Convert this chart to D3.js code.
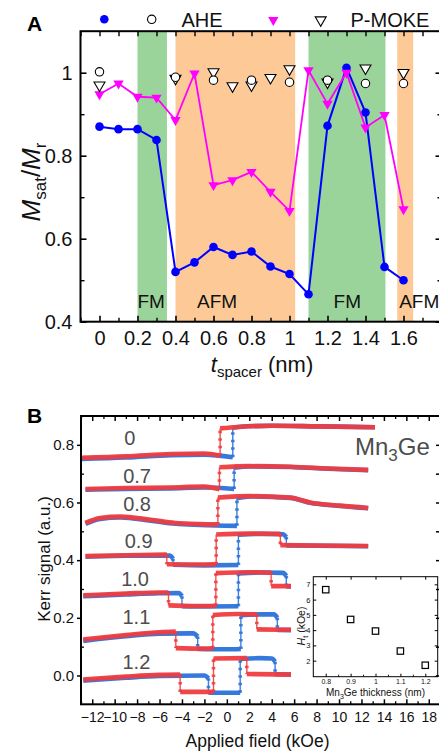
<!DOCTYPE html>
<html><head><meta charset="utf-8">
<script src="https://cdn.jsdelivr.net/npm/d3@7"></script>
<style>
body{margin:0;background:#fff;}
svg{display:block;font-family:"Liberation Sans",Arial,Helvetica,sans-serif;}
</style></head><body>
<svg id="chart" width="439" height="752"></svg>
<script>
// ---------- Panel A: saturation / remanence ratio vs spacer thickness ----------
const spacer   = [0,0.1,0.2,0.3,0.4,0.5,0.6,0.7,0.8,0.9,1.0,1.1,1.2,1.3,1.4,1.5,1.6];
const aheSat   = [0.870,0.864,0.864,0.838,0.520,0.543,0.580,0.561,0.569,0.533,0.515,0.466,0.872,1.012,0.904,0.532,0.500];
const mokeSat  = [0.948,0.974,0.942,0.940,0.886,0.998,0.729,0.741,0.761,0.713,0.667,1.006,0.925,1.000,0.868,0.898,0.671];
const aheOpenX = [0,0.4,0.6,0.8,1.0,1.2,1.4,1.6];
const aheOpen  = [1.002,0.989,0.982,0.982,0.977,0.982,0.974,0.974];
const mokeOpenX= [0,0.4,0.6,0.7,0.8,0.9,1.0,1.2,1.4,1.6];
const mokeOpen = [0.970,0.986,1.002,0.968,0.970,0.988,1.009,0.977,1.011,1.000];
const fmBands  = [[0.2,0.355],[1.1,1.505]];
const afmBands = [[0.4,1.03],[1.567,1.651]];
const phaseNames = ["FM","AFM","FM","AFM"];
const phaseStart = [0.2,0.513,1.232,1.577];
const xTicksA = [0,0.2,0.4,0.6,0.8,1.0,1.2,1.4,1.6];
const yTicksA = [0.4,0.6,0.8,1.0];

// ---------- Panel B: Kerr hysteresis loops (field kOe, signal a.u.) ----------
const loopNames = ["0","0.7","0.8","0.9","1.0","1.1","1.2"];
const loopLabelH = [-9.15,-9.24,-9.24,-9.1,-9.42,-9.3,-9.3];
const loopLabelS = [0.800,0.668,0.572,0.442,0.309,0.177,0.023];
// descending sweep (red) and ascending sweep (blue)
const kerr00Down = [[-13,0.755],[-9,0.760],[-5,0.768],[-2,0.770],[-0.6,0.762],[-0.6,0.857],[1,0.862],[4,0.866],[8,0.864],[13.2,0.861]];
const kerr00Up   = [[-13,0.751],[-9,0.756],[-5,0.764],[-2,0.766],[0.53,0.757],[0.53,0.859],[1,0.862],[4,0.866],[8,0.864],[13.2,0.861]];
const kerr07Down = [[-12.6,0.647],[-9,0.650],[-5,0.652],[-2,0.655],[-0.66,0.646],[-0.66,0.722],[2,0.726],[5.7,0.724],[9,0.718],[12.6,0.713]];
const kerr07Up   = [[-12.6,0.644],[-9,0.647],[-5,0.649],[-2,0.652],[0.65,0.647],[0.65,0.721],[2,0.725],[5.7,0.723],[9,0.717],[12.6,0.712]];
const kerr08Down = [[-12.6,0.529],[-11.3,0.546],[-9.5,0.551],[-6.8,0.540],[-4.6,0.529],[-2.4,0.525],[-0.8,0.524],[-0.8,0.617],[2.1,0.622],[5.65,0.617],[7.4,0.600],[10.1,0.589],[12.6,0.581]];
const kerr08Up   = [[-12.6,0.526],[-11.3,0.543],[-9.5,0.548],[-6.8,0.537],[-4.6,0.526],[-2.4,0.522],[0.9,0.519],[0.9,0.615],[2.1,0.621],[5.65,0.616],[7.4,0.599],[10.1,0.588],[12.6,0.580]];
const kerr09Down = [[-12.6,0.414],[-9,0.417],[-5.35,0.419],[-5.35,0.386],[-3,0.385],[-0.95,0.386],[-0.95,0.489],[2,0.492],[4.77,0.491],[4.77,0.452],[8,0.451],[12.6,0.449]];
const kerr09Up   = [[-12.6,0.412],[-9,0.415],[-5.1,0.416],[-4.8,0.405],[-4.8,0.384],[-2,0.382],[1.03,0.383],[1.03,0.488],[3,0.491],[5.0,0.490],[5.3,0.480],[5.3,0.451],[8,0.450],[12.6,0.448]];
const kerr10Down = [[-12.8,0.278],[-9,0.284],[-6,0.288],[-5.2,0.288],[-5.2,0.243],[-3,0.241],[-0.98,0.242],[-0.98,0.355],[2,0.358],[3.95,0.357],[3.95,0.310],[8,0.310],[12.6,0.309]];
const kerr10Up   = [[-12.8,0.275],[-9,0.281],[-6,0.285],[-4.3,0.286],[-4.0,0.275],[-4.0,0.240],[-2,0.239],[1.03,0.240],[1.03,0.354],[3,0.357],[5.0,0.356],[5.3,0.345],[5.3,0.309],[12.6,0.308]];
const kerr11Down = [[-12.8,0.125],[-9,0.140],[-6,0.150],[-4.55,0.152],[-4.55,0.095],[-2,0.093],[-1.25,0.094],[-1.25,0.210],[1,0.213],[2.67,0.212],[2.67,0.160],[6,0.158],[12.6,0.155]];
const kerr11Up   = [[-12.8,0.120],[-9,0.136],[-6,0.145],[-3,0.146],[-2.6,0.135],[-2.6,0.092],[0,0.091],[1.25,0.092],[1.25,0.209],[3,0.212],[4.2,0.212],[4.5,0.200],[4.5,0.158],[12.6,0.154]];
const kerr12Down = [[-12.8,-0.014],[-9,-0.004],[-6,0.002],[-4.16,0.003],[-4.16,-0.057],[-1.19,-0.057],[-1.19,0.059],[1.78,0.060],[1.78,0.005],[6,0.003],[12.6,0.000]];
const kerr12Up   = [[-12.8,-0.018],[-9,-0.008],[-6,-0.002],[-2,0.000],[-1.64,-0.010],[-1.64,-0.060],[1.19,-0.060],[1.19,0.057],[3,0.060],[4.0,0.059],[4.3,0.048],[4.3,0.004],[12.6,0.000]];
const loopsDown = [kerr00Down,kerr07Down,kerr08Down,kerr09Down,kerr10Down,kerr11Down,kerr12Down];
const loopsUp   = [kerr00Up,kerr07Up,kerr08Up,kerr09Up,kerr10Up,kerr11Up,kerr12Up];
const xTicksB = [-12,-10,-8,-6,-4,-2,0,2,4,6,8,10,12,14,16,18];
const yTicksB = [0,0.2,0.4,0.6,0.8];

// inset: transition field vs Mn3Ge thickness
const insetThick = [0.8,0.9,1.0,1.1,1.2];
const insetHt    = [6.65,4.70,3.94,2.63,1.70];

const svg = d3.select("#chart");
const BLUE_A = "#0000ff", MAG = "#ff00ff";
const RED_B = "#ef3c40", BLUE_B = "#2a72da";

function styleAxis(g, w, fs){
  g.select(".domain").remove();
  g.selectAll(".tick line").attr("stroke","#000").attr("stroke-width",w);
  g.selectAll(".tick text").attr("fill","#111").style("font-size",fs+"px").attr("font-family",null);
  g.attr("font-family",null);
}

// ================= Panel A =================
const xA = d3.scaleLinear().domain([-0.1,1.8]).range([80.5,441.5]);
const yA = d3.scaleLinear().domain([0.4,1.1]).range([321.7,31.2]);
const gA = svg.append("g");

fmBands.forEach(b => gA.append("rect")
  .attr("x",xA(b[0])).attr("width",xA(b[1])-xA(b[0]))
  .attr("y",yA(1.1)).attr("height",yA(0.4)-yA(1.1)).attr("fill","#9bd49b"));
afmBands.forEach(b => gA.append("rect")
  .attr("x",xA(b[0])).attr("width",xA(b[1])-xA(b[0]))
  .attr("y",yA(1.1)).attr("height",yA(0.4)-yA(1.1)).attr("fill","#fdca97"));

phaseNames.forEach((t,i) => gA.append("text")
  .attr("x",xA(phaseStart[i])).attr("y",308)
  .style("font-size","19px").attr("fill","#111").text(t));

// axes A
const minorA = d3.range(-0.1,1.85,0.1).map(v=>+v.toFixed(2)).filter(v=>!xTicksA.includes(v));
gA.append("g").attr("transform",`translate(0,${yA(0.4)})`)
  .call(d3.axisBottom(xA).tickValues(xTicksA).tickSize(-6).tickPadding(9)
    .tickFormat(d=> d===0?"0":(d===1?"1":d3.format(".1f")(d))))
  .call(g=>styleAxis(g,1.6,20));
gA.append("g").attr("transform",`translate(0,${yA(0.4)})`)
  .call(d3.axisBottom(xA).tickValues(minorA).tickSize(-4).tickFormat(""))
  .call(g=>styleAxis(g,1.4,20));
gA.append("g").attr("transform",`translate(0,${yA(1.1)})`)
  .call(d3.axisTop(xA).tickValues(xTicksA.concat(minorA)).tickSize(-5).tickFormat(""))
  .call(g=>styleAxis(g,1.4,20));
gA.append("g").attr("transform",`translate(${xA(-0.1)},0)`)
  .call(d3.axisLeft(yA).tickValues(yTicksA).tickSize(-6).tickPadding(8)
    .tickFormat(d=> d===1?"1":d3.format(".1f")(d)))
  .call(g=>styleAxis(g,1.6,20));
gA.append("g").attr("transform",`translate(${xA(-0.1)},0)`)
  .call(d3.axisLeft(yA).tickValues([0.5,0.7,0.9]).tickSize(-4).tickFormat(""))
  .call(g=>styleAxis(g,1.4,20));
gA.append("g").attr("transform",`translate(${xA(1.8)},0)`)
  .call(d3.axisRight(yA).tickValues(yTicksA).tickSize(-6).tickFormat(""))
  .call(g=>styleAxis(g,1.6,20));
gA.append("g").attr("transform",`translate(${xA(1.8)},0)`)
  .call(d3.axisRight(yA).tickValues([0.5,0.7,0.9]).tickSize(-4).tickFormat(""))
  .call(g=>styleAxis(g,1.4,20));
gA.append("rect").attr("x",xA(-0.1)).attr("y",yA(1.1))
  .attr("width",xA(1.8)-xA(-0.1)).attr("height",yA(0.4)-yA(1.1))
  .attr("fill","none").attr("stroke","#000").attr("stroke-width",2);

// series A
const lineA = d3.line().x(d=>xA(d[0])).y(d=>yA(d[1]));
const ahePts = spacer.map((t,i)=>[t,aheSat[i]]);
const mokePts = spacer.map((t,i)=>[t,mokeSat[i]]);
gA.append("path").datum(ahePts).attr("d",lineA).attr("fill","none")
  .attr("stroke",BLUE_A).attr("stroke-width",2);
gA.selectAll(".aheDot").data(ahePts).join("circle")
  .attr("cx",d=>xA(d[0])).attr("cy",d=>yA(d[1])).attr("r",4.3).attr("fill",BLUE_A);
gA.append("path").datum(mokePts).attr("d",lineA).attr("fill","none")
  .attr("stroke",MAG).attr("stroke-width",1.8);
const triDown = d3.symbol(d3.symbolTriangle,46);
gA.selectAll(".mokeTri").data(mokePts).join("path")
  .attr("d",triDown).attr("fill",MAG)
  .attr("transform",d=>`translate(${xA(d[0])},${yA(d[1])}) rotate(180)`);
gA.selectAll(".mokeOpen").data(mokeOpenX.map((t,i)=>[t,mokeOpen[i]])).join("path")
  .attr("d",d3.symbol(d3.symbolTriangle,52)).attr("fill","#fff").attr("stroke","#000").attr("stroke-width",1.1)
  .attr("transform",d=>`translate(${xA(d[0])},${yA(d[1])}) rotate(180)`);
gA.selectAll(".aheOpen").data(aheOpenX.map((t,i)=>[t,aheOpen[i]])).join("circle")
  .attr("cx",d=>xA(d[0])).attr("cy",d=>yA(d[1])).attr("r",4.2)
  .attr("fill","#fff").attr("stroke","#000").attr("stroke-width",1.1);

// legend A
gA.append("circle").attr("cx",104.3).attr("cy",19.3).attr("r",4.3).attr("fill",BLUE_A);
gA.append("circle").attr("cx",151.7).attr("cy",19.3).attr("r",4.2).attr("fill","#fff").attr("stroke","#000").attr("stroke-width",1.1);
gA.append("text").attr("x",181.5).attr("y",27).style("font-size","20px").attr("fill","#111").text("AHE");
gA.append("path").attr("d",triDown).attr("fill",MAG).attr("transform","translate(273.3,20) rotate(180)");
gA.append("path").attr("d",d3.symbol(d3.symbolTriangle,52)).attr("fill","#fff").attr("stroke","#000").attr("stroke-width",1.1)
  .attr("transform","translate(320.7,20) rotate(180)");
gA.append("text").attr("x",350.5).attr("y",27).style("font-size","20px").attr("fill","#111").text("P-MOKE");

// titles A
gA.append("text").attr("x",27).attr("y",31).style("font-size","21px").style("font-weight","bold").text("A");
const yTitleA = gA.append("text").attr("transform","translate(40,182) rotate(-90)")
  .attr("text-anchor","middle").style("font-size","26px").attr("fill","#111");
yTitleA.append("tspan").style("font-style","italic").text("M");
yTitleA.append("tspan").attr("dy",6).style("font-size","17px").text("sat");
yTitleA.append("tspan").attr("dy",-6).text("/");
yTitleA.append("tspan").style("font-style","italic").text("M");
yTitleA.append("tspan").attr("dy",6).style("font-size","17px").text("r");
const xTitleA = gA.append("text").attr("x",262).attr("y",372)
  .attr("text-anchor","middle").style("font-size","22px").attr("fill","#111");
xTitleA.append("tspan").style("font-style","italic").text("t");
xTitleA.append("tspan").attr("dy",5).style("font-size","15px").text("spacer");
xTitleA.append("tspan").attr("dy",-5).text(" (nm)");

// ================= Panel B =================
const xB = d3.scaleLinear().domain([-13,19]).range([81,440]);
const yB = d3.scaleLinear().domain([-0.1,0.9]).range([704.3,416]);
const gB = svg.append("g");
svg.append("defs").append("clipPath").attr("id","clipB")
  .append("rect").attr("x",xB(-13)).attr("y",yB(0.9)).attr("width",xB(19)-xB(-13)).attr("height",yB(-0.1)-yB(0.9));
const gCurves = gB.append("g").attr("clip-path","url(#clipB)");
const runLine = d3.line().x(d=>xB(d[0])).y(d=>yB(d[1])).curve(d3.curveMonotoneX);

function drawBranch(g, pts, color){
  const runs = [], jumps = [];
  let run = [pts[0]];
  for(let i=1;i<pts.length;i++){
    if(pts[i][0]===pts[i-1][0]){ runs.push(run); jumps.push([pts[i-1],pts[i]]); run=[pts[i]]; }
    else run.push(pts[i]);
  }
  runs.push(run);
  jumps.forEach(j=>{
    g.append("line").attr("x1",xB(j[0][0])).attr("x2",xB(j[1][0]))
      .attr("y1",yB(j[0][1])).attr("y2",yB(j[1][1]))
      .attr("stroke",color).attr("stroke-width",1.4).attr("opacity",0.9);
    g.append("line").attr("x1",xB(j[0][0])).attr("x2",xB(j[1][0]))
      .attr("y1",yB(j[0][1])).attr("y2",yB(j[1][1]))
      .attr("stroke",color).attr("stroke-width",3.6).attr("stroke-dasharray","2.5 5").attr("opacity",0.85);
  });
  runs.forEach(r=>{
    g.append("path").datum(r).attr("d",runLine).attr("fill","none")
      .attr("stroke",color).attr("stroke-width",4.6).attr("opacity",0.95);
  });
}
loopsUp.forEach((up,i)=>{
  drawBranch(gCurves, up, BLUE_B);
  drawBranch(gCurves, loopsDown[i], RED_B);
});

// loop labels
loopNames.forEach((n,i)=> gB.append("text")
  .attr("x",xB(loopLabelH[i])).attr("y",yB(loopLabelS[i]))
  .style("font-size","20px").attr("fill","#4d4d4d").text(n));

// material label
const mat = gB.append("text").attr("x",355).attr("y",455).style("font-size","24px").attr("fill","#4d4d4d");
mat.append("tspan").text("Mn");
mat.append("tspan").attr("dy",6).style("font-size","17px").text("3");
mat.append("tspan").attr("dy",-6).text("Ge");

// inset background hides the curves behind it
gB.append("rect").attr("x",291).attr("y",562).attr("width",150).attr("height",140).attr("fill","#fff");

// axes B
const minorBx = d3.range(-13,20,1).filter(v=>!xTicksB.includes(v));
gB.append("g").attr("transform",`translate(0,${yB(-0.1)})`)
  .call(d3.axisBottom(xB).tickValues(xTicksB).tickSize(-5).tickPadding(8).tickFormat(d3.format("d")))
  .call(g=>styleAxis(g,1.5,14));
gB.append("g").attr("transform",`translate(0,${yB(-0.1)})`)
  .call(d3.axisBottom(xB).tickValues(minorBx).tickSize(-3).tickFormat(""))
  .call(g=>styleAxis(g,1.3,14));
gB.append("g").attr("transform",`translate(0,${yB(0.9)})`)
  .call(d3.axisTop(xB).tickValues(xTicksB).tickSize(-5).tickFormat(""))
  .call(g=>styleAxis(g,1.5,14));
gB.append("g").attr("transform",`translate(0,${yB(0.9)})`)
  .call(d3.axisTop(xB).tickValues(minorBx).tickSize(-3).tickFormat(""))
  .call(g=>styleAxis(g,1.3,14));
gB.append("g").attr("transform",`translate(${xB(-13)},0)`)
  .call(d3.axisLeft(yB).tickValues(yTicksB).tickSize(4).tickPadding(3).tickFormat(d3.format(".1f")))
  .call(g=>styleAxis(g,1.5,15));
gB.append("g").attr("transform",`translate(${xB(-13)},0)`)
  .call(d3.axisLeft(yB).tickValues([0.1,0.3,0.5,0.7]).tickSize(-3).tickFormat(""))
  .call(g=>styleAxis(g,1.3,15));
gB.append("g").attr("transform",`translate(${xB(19)},0)`)
  .call(d3.axisRight(yB).tickValues(yTicksB.concat([0.1,0.3,0.5,0.7])).tickSize(-4).tickFormat(""))
  .call(g=>styleAxis(g,1.5,15));
gB.append("rect").attr("x",xB(-13)).attr("y",yB(0.9))
  .attr("width",xB(19)-xB(-13)).attr("height",yB(-0.1)-yB(0.9))
  .attr("fill","none").attr("stroke","#000").attr("stroke-width",2);

gB.append("text").attr("x",27).attr("y",423).style("font-size","21px").style("font-weight","bold").text("B");
gB.append("text").attr("x",257.5).attr("y",747).attr("text-anchor","middle")
  .style("font-size","17.5px").attr("fill","#111").text("Applied field (kOe)");
gB.append("text").attr("transform","translate(50,559) rotate(-90)").attr("text-anchor","middle")
  .style("font-size","17px").attr("fill","#111").text("Kerr signal (a.u.)");

// ================= Inset =================
const xI = d3.scaleLinear().domain([0.75,1.25]).range([313.3,437.7]);
const yI = d3.scaleLinear().domain([0.95,7.5]).range([676.7,576.7]);
const gI = svg.append("g");
gI.append("g").attr("transform",`translate(0,${yI(0.95)})`)
  .call(d3.axisBottom(xI).tickValues(insetThick).tickSize(-3).tickPadding(2)
    .tickFormat(d=> d===1?"1":d3.format(".1f")(d)))
  .call(g=>styleAxis(g,1,7));
gI.append("g").attr("transform",`translate(0,${yI(0.95)})`)
  .call(d3.axisBottom(xI).tickValues([0.85,0.95,1.05,1.15]).tickSize(-2).tickFormat(""))
  .call(g=>styleAxis(g,0.9,7));
gI.append("g").attr("transform",`translate(0,${yI(7.5)})`)
  .call(d3.axisTop(xI).tickValues(insetThick).tickSize(-3).tickFormat(""))
  .call(g=>styleAxis(g,1,7));
gI.append("g").attr("transform",`translate(${xI(0.75)},0)`)
  .call(d3.axisLeft(yI).tickValues([2,3,4,5,6,7]).tickSize(-3).tickPadding(3).tickFormat(d3.format("d")))
  .call(g=>styleAxis(g,1,7.5));
gI.append("g").attr("transform",`translate(${xI(1.25)},0)`)
  .call(d3.axisRight(yI).tickValues([1,2,3,4,5,6,7]).tickSize(-3).tickFormat(""))
  .call(g=>styleAxis(g,1,7.5));
gI.append("rect").attr("x",xI(0.75)).attr("y",yI(7.5))
  .attr("width",xI(1.25)-xI(0.75)).attr("height",yI(0.95)-yI(7.5))
  .attr("fill","none").attr("stroke","#000").attr("stroke-width",1);
gI.selectAll(".sq").data(insetThick.map((t,i)=>[t,insetHt[i]])).join("rect")
  .attr("x",d=>xI(d[0])-3.2).attr("y",d=>yI(d[1])-3.2).attr("width",6.4).attr("height",6.4)
  .attr("fill","#fff").attr("stroke","#000").attr("stroke-width",1.2);
const ixt = gI.append("text").attr("x",375.5).attr("y",696).attr("text-anchor","middle")
  .style("font-size","10px").attr("fill","#111");
ixt.append("tspan").text("Mn");
ixt.append("tspan").attr("dy",3).style("font-size","7px").text("3");
ixt.append("tspan").attr("dy",-3).text("Ge thickness (nm)");
const iyt = gI.append("text").attr("transform","translate(305,626) rotate(-90)").attr("text-anchor","middle")
  .style("font-size","10.5px").attr("fill","#111");
iyt.append("tspan").style("font-style","italic").text("H");
iyt.append("tspan").attr("dy",3).style("font-size","7.5px").text("t");
iyt.append("tspan").attr("dy",-3).text(" (kOe)");
</script>
</body></html>
